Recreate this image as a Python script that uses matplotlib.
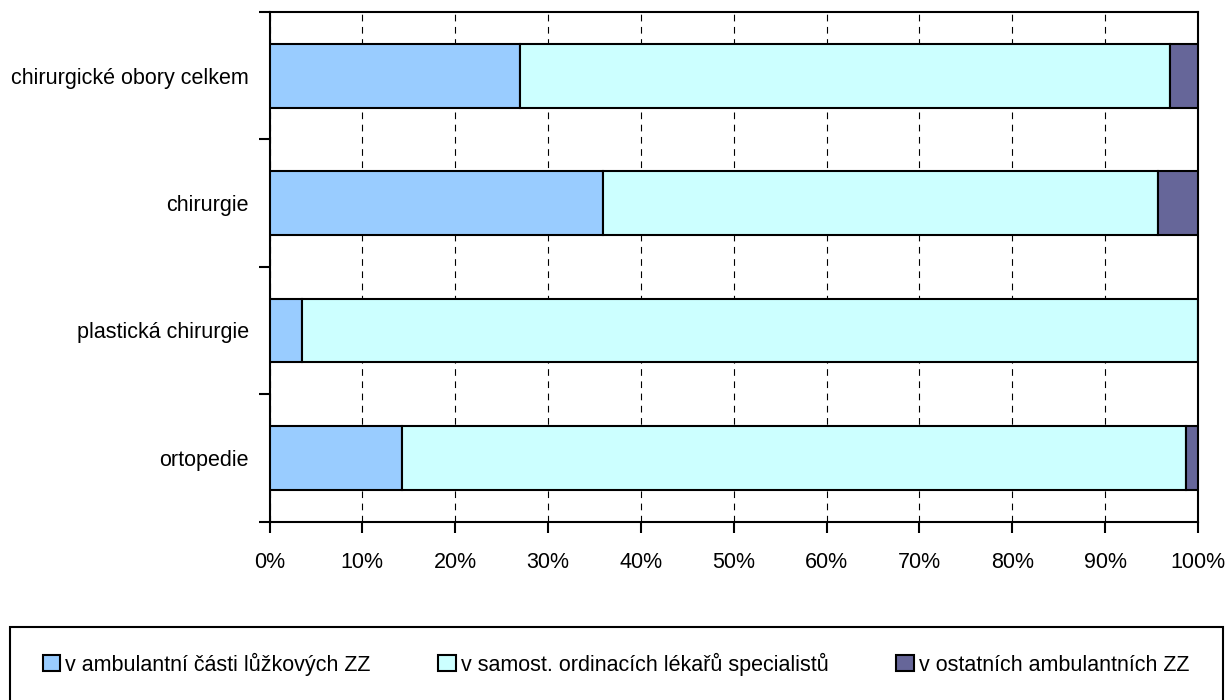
import matplotlib
matplotlib.use("Agg")
import matplotlib.pyplot as plt
from matplotlib import font_manager
from matplotlib.patches import Patch, Rectangle
import numpy as np

# font: narrow sans if available
names = {f.name for f in font_manager.fontManager.ttflist}
if "Liberation Sans Narrow" in names:
    plt.rcParams["font.family"] = ["Liberation Sans Narrow", "DejaVu Sans"]
else:
    plt.rcParams["font.family"] = ["Liberation Sans", "DejaVu Sans"]

categories = ["chirurgické obory celkem", "chirurgie", "plastická chirurgie", "ortopedie"]
series_names = ["v ambulantní části lůžkových ZZ",
                "v samost. ordinacích lékařů specialistů",
                "v ostatních ambulantních ZZ"]
ambulantni_zz = [27.0, 35.9, 3.5, 14.3]
samost_ordinace = [70.0, 59.8, 96.5, 84.4]
ostatni_zz = [3.0, 4.3, 0.0, 1.3]
x_ticks = [0, 10, 20, 30, 40, 50, 60, 70, 80, 90, 100]
colors = ["#99CCFF", "#CCFFFF", "#666699"]

fig = plt.figure(figsize=(12.31, 7), dpi=100)
ax = fig.add_axes([269.5 / 1231, 1 - 521.5 / 700, (1198 - 269.5) / 1231, (521.5 - 12) / 700])

y = np.arange(len(categories))
left = np.zeros(len(categories))
for vals, col, name in zip([ambulantni_zz, samost_ordinace, ostatni_zz], colors, series_names):
    ax.barh(y, vals, left=left, height=0.5, color=col, edgecolor="black",
            linewidth=1.5, label=name, zorder=3)
    left = left + np.array(vals)

ax.set_xlim(0, 100)
ax.set_ylim(len(categories) - 0.5, -0.5)

ax.set_xticks(x_ticks)
ax.set_xticklabels([f"{t}%" for t in x_ticks], fontsize=15.5)
ax.set_yticks(np.arange(len(categories) + 1) - 0.5)
ax.set_yticklabels([])
ax.set_yticks(y, minor=True)
ax.set_yticklabels(categories, minor=True, fontsize=15.5)
ax.tick_params(axis="y", which="minor", length=0, pad=15)
ax.tick_params(axis="both", which="major", direction="out", length=8, width=1.5)
ax.tick_params(axis="x", pad=14)

ax.xaxis.grid(True, color="black", linestyle=(0, (6, 5)), linewidth=0.8, zorder=0)
ax.set_axisbelow(True)
for s in ax.spines.values():
    s.set_linewidth(1.5)
    s.set_color("black")

# legend box running off the bottom edge
fig.patches.append(Rectangle((10 / 1231, 1 - 706 / 700), 1213 / 1231, 79 / 700,
                             transform=fig.transFigure, facecolor="none",
                             edgecolor="black", linewidth=1.5))

handles = [Patch(facecolor=c, edgecolor="black", linewidth=1.5) for c in colors]
fig.legend(handles, series_names, loc="center", ncol=3,
           bbox_to_anchor=(616 / 1231, 1 - 664 / 700),
           frameon=False, fontsize=15.5,
           handlelength=0.8, handleheight=0.8, handletextpad=0.25,
           columnspacing=3.15, borderaxespad=0)

fig.savefig("out.png", dpi=100)
